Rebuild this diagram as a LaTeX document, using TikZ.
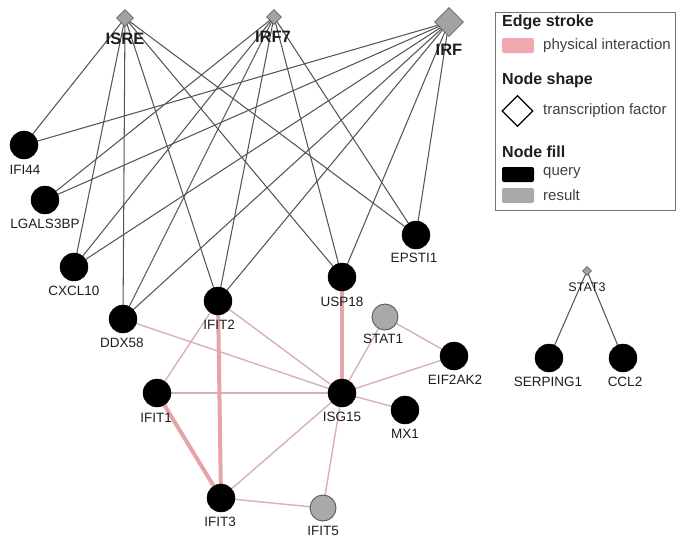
\documentclass[tikz,border=0pt]{standalone}
\usepackage{fontspec}
\setmainfont{Liberation Sans}
\usetikzlibrary{shapes.geometric,backgrounds}
\definecolor{tfline}{HTML}{555555}
\definecolor{pthin}{HTML}{DAB0B3}
\definecolor{pthick}{HTML}{E6A3A8}
\definecolor{resfill}{HTML}{A9A9A9}
\definecolor{tffill}{HTML}{A2A2A2}
\definecolor{legpink}{HTML}{F0A9AF}
\definecolor{txt}{HTML}{1E1E1E}
\begin{document}
\begin{tikzpicture}[x=1pt,y=-1pt,
  query/.style={circle,fill=black,draw=black,minimum size=28pt,inner sep=0pt},
  result/.style={circle,fill=resfill,draw=black!65,line width=0.9pt,minimum size=26pt,inner sep=0pt},
  tf/.style={diamond,fill=tffill,draw=black!60,line width=0.8pt,inner sep=0pt,minimum size=#1},
  lab/.style={font=\fontsize{13.5}{13.5}\selectfont,text=txt,inner sep=0pt},
  tflab/.style={font=\bfseries\fontsize{16.5}{17}\selectfont,text=txt,inner sep=0pt},
  tfedge/.style={draw=tfline,line width=1.05pt},
  piedge/.style={draw=pthin,line width=1.4pt},
  piheavy/.style={draw=pthick,line width=4pt},
  leghead/.style={font=\bfseries\fontsize{16}{16}\selectfont,text=txt,inner sep=0pt,anchor=west},
  legtext/.style={font=\fontsize{15}{15}\selectfont,text=txt!85,inner sep=0pt,anchor=west}
]
\useasboundingbox (0,0) rectangle (685,546);

% transcription factors
\node[tf=17pt] (ISRE) at (125,18) {};
\node[tf=15pt] (IRF7) at (274,17) {};
\node[tf=29pt] (IRF) at (449,22) {};
\node[tf=9pt] (STAT3) at (587,271) {};
\node[tflab] (ISREl) at (125,38.5) {ISRE};
\node[tflab] (IRF7l) at (273,37) {IRF7};
\node[tflab] (IRFl) at (449,50) {IRF};
\node[lab,font=\fontsize{12.5}{12.5}\selectfont] (STAT3l) at (587,287) {STAT3};

% genes
\node[query] (IFI44) at (24,145) {};
\node[query] (LGALS3BP) at (45,200) {};
\node[query] (CXCL10) at (74,267) {};
\node[query] (DDX58) at (123,319) {};
\node[query] (IFIT2) at (218,301) {};
\node[query] (USP18) at (342,277) {};
\node[query] (EPSTI1) at (416,235) {};
\node[result] (STAT1) at (385,317) {};
\node[query] (EIF2AK2) at (454,356) {};
\node[query] (ISG15) at (342,393) {};
\node[query] (MX1) at (405,410) {};
\node[query] (IFIT1) at (157,393) {};
\node[query] (IFIT3) at (221,498) {};
\node[result] (IFIT5) at (323,508) {};
\node[query] (SERPING1) at (549,358) {};
\node[query] (CCL2) at (623,358) {};

% gene labels
\node[lab] (IFI44l) at (25,169.5) {IFI44};
\node[lab] (LGALS3BPl) at (45,224) {LGALS3BP};
\node[lab] (CXCL10l) at (74,291) {CXCL10};
\node[lab] (DDX58l) at (122,343) {DDX58};
\node[lab] (IFIT2l) at (219,325) {IFIT2};
\node[lab] (USP18l) at (342,302) {USP18};
\node[lab] (EPSTI1l) at (414,258) {EPSTI1};
\node[lab] (STAT1l) at (383,339) {STAT1};
\node[lab] (EIF2AK2l) at (455,380) {EIF2AK2};
\node[lab] (ISG15l) at (342,417) {ISG15};
\node[lab] (MX1l) at (405,434) {MX1};
\node[lab] (IFIT1l) at (156,418) {IFIT1};
\node[lab] (IFIT3l) at (220,522) {IFIT3};
\node[lab] (IFIT5l) at (323,531) {IFIT5};
\node[lab] (SERPING1l) at (548,382) {SERPING1};
\node[lab] (CCL2l) at (625,382) {CCL2};

\begin{scope}[on background layer]
  % TF edges
  \foreach \g in {IFI44,CXCL10,DDX58,IFIT2,USP18,EPSTI1}
    \draw[tfedge] (ISRE.center) -- (\g.center);
  \foreach \g in {LGALS3BP,CXCL10,DDX58,IFIT2,USP18,EPSTI1}
    \draw[tfedge] (IRF7.center) -- (\g.center);
  \foreach \g in {IFI44,LGALS3BP,CXCL10,DDX58,IFIT2,USP18,EPSTI1}
    \draw[tfedge] (IRF.center) -- (\g.center);
  \draw[tfedge] (STAT3.center) -- (SERPING1.center);
  \draw[tfedge] (STAT3.center) -- (CCL2.center);
  % physical interactions
  \draw[piedge] (DDX58.center) -- (ISG15.center);
  \draw[piedge] (IFIT2.center) -- (ISG15.center);
  \draw[piedge] (IFIT2.center) -- (IFIT1.center);
  \draw[piedge] (IFIT1.center) -- (ISG15.center);
  \draw[piedge] (STAT1.center) -- (ISG15.center);
  \draw[piedge] (STAT1.center) -- (EIF2AK2.center);
  \draw[piedge] (EIF2AK2.center) -- (ISG15.center);
  \draw[piedge] (ISG15.center) -- (MX1.center);
  \draw[piedge] (ISG15.center) -- (IFIT3.center);
  \draw[piedge] (ISG15.center) -- (IFIT5.center);
  \draw[piedge] (IFIT3.center) -- (IFIT5.center);
  \draw[piheavy] (USP18.center) -- (ISG15.center);
  \draw[piheavy] (IFIT2.center) -- (IFIT3.center);
  \draw[piheavy] (IFIT1.center) -- (IFIT3.center);
\end{scope}

% legend
\node[draw=black!55,line width=1pt,minimum width=180pt,minimum height=198pt,inner sep=0pt,anchor=north west] (legend) at (495,12) {};
\node[leghead] (h1) at (502,22) {Edge stroke};
\node[fill=legpink,rounded corners=2pt,minimum width=32pt,minimum height=15pt,inner sep=0pt] (kpi) at (518,45.5) {};
\node[legtext] (t1) at (543,45.5) {physical interaction};
\node[leghead] (h2) at (502,80) {Node shape};
\node[diamond,draw=black,line width=1.3pt,fill=white,minimum size=31pt,inner sep=0pt] (ktf) at (517.5,111) {};
\node[legtext] (t2) at (543,111) {transcription factor};
\node[leghead] (h3) at (502,152) {Node fill};
\node[fill=black,rounded corners=2pt,minimum width=32pt,minimum height=15pt,inner sep=0pt] (kq) at (518,174.5) {};
\node[legtext] (t3) at (543,173.5) {query};
\node[fill=resfill,rounded corners=2pt,minimum width=32pt,minimum height=15pt,inner sep=0pt] (kr) at (518,195.5) {};
\node[legtext] (t4) at (543,195) {result};
\end{tikzpicture}
\end{document}
